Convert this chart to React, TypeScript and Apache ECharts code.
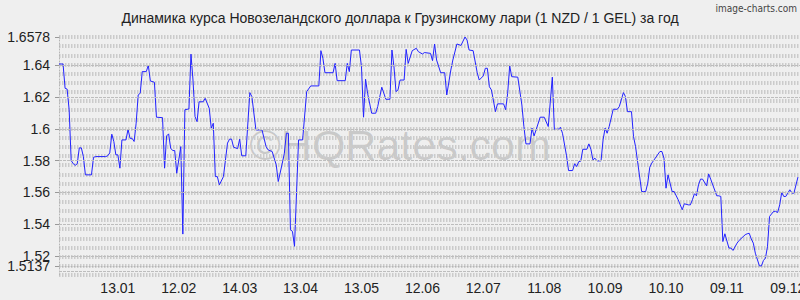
import React, { useEffect, useRef } from "react";
import * as echarts from "echarts";

// Day index (0 = 14.12.2024) and NZD/GEL rate
const days = [
  1, 3, 4, 5, 6, 7, 8, 9, 10, 11, 12, 13, 14, 17, 18, 19, 24, 25, 26, 27, 28, 29, 30, 31, 32, 34, 35, 36, 37, 38,
  39, 40, 41, 42, 44, 45, 46, 48, 49, 52, 53, 54, 55, 56, 57, 58, 59, 61, 62, 63, 65, 66, 67, 68, 69, 70, 72, 73,
  75, 76, 77, 78, 79, 80, 82, 84, 85, 86, 87, 89, 90, 91, 93, 95, 96, 98, 101, 103, 104, 106, 108, 109, 111, 112,
  113, 114, 115, 116, 117, 119, 121, 123, 125, 129, 130, 131, 132, 136, 137, 138, 142, 143, 144, 145, 149, 150,
  151, 152, 153, 155, 157, 158, 160, 161, 162, 164, 165, 166, 167, 168, 169, 171, 172, 173, 175, 177, 178, 180,
  181, 184, 185, 186, 187, 189, 191, 192, 194, 195, 197, 199, 201, 202, 203, 205, 207, 208, 210, 211, 212, 213,
  214, 216, 217, 220, 221, 222, 223, 224, 227, 229, 230, 231, 233, 234, 235, 236, 238, 240, 242, 244, 245, 247,
  248, 249, 251, 252, 254, 255, 256, 257, 258, 259, 261, 262, 263, 264, 265, 266, 268, 269, 270, 271, 272, 274,
  276, 277, 279, 280, 281, 283, 284, 285, 288, 289, 290, 291, 292, 293, 297, 298, 299, 300, 301, 303, 304, 306,
  308, 309, 311, 312, 313, 314, 315, 316, 317, 318, 320, 321, 322, 325, 326, 327, 328, 329, 331, 332, 333, 335,
  336, 339, 340, 341, 342, 343, 344, 346, 347, 348, 349, 350, 351, 353, 354, 355, 356, 357, 358, 359, 360, 361,
  362, 363, 365,
];
const rates = [
  1.6408, 1.6408, 1.6255, 1.625, 1.612, 1.58, 1.578, 1.577, 1.578, 1.588, 1.588, 1.5825, 1.571, 1.571, 1.582,
  1.5825, 1.5825, 1.583, 1.5848, 1.5966, 1.592, 1.5836, 1.5836, 1.5752, 1.593, 1.593, 1.5997, 1.594, 1.594, 1.592,
  1.6035, 1.6213, 1.6224, 1.636, 1.636, 1.64, 1.6301, 1.6293, 1.6073, 1.607, 1.5752, 1.5955, 1.5968, 1.5878,
  1.5863, 1.5863, 1.572, 1.5888, 1.5337, 1.612, 1.6125, 1.647, 1.6307, 1.6077, 1.6045, 1.617, 1.617, 1.6192,
  1.6129, 1.6004, 1.6035, 1.5699, 1.5699, 1.5647, 1.5699, 1.591, 1.5935, 1.5935, 1.5884, 1.5875, 1.5935, 1.583,
  1.583, 1.6228, 1.6203, 1.5993, 1.5993, 1.5888, 1.5867, 1.5857, 1.5773, 1.5668, 1.5784, 1.5846, 1.5972, 1.5972,
  1.5364, 1.5354, 1.526, 1.593, 1.593, 1.6234, 1.627, 1.627, 1.6492, 1.6444, 1.6353, 1.6353, 1.6412, 1.6303,
  1.6303, 1.6412, 1.636, 1.6496, 1.6496, 1.639, 1.6073, 1.6312, 1.6224, 1.6098, 1.6098, 1.614, 1.6262, 1.6224,
  1.6186, 1.6186, 1.6496, 1.639, 1.6234, 1.6245, 1.6307, 1.6307, 1.65, 1.6412, 1.6492, 1.6507, 1.6486, 1.6471,
  1.648, 1.6475, 1.6429, 1.6534, 1.6433, 1.6353, 1.6353, 1.6213, 1.637, 1.6433, 1.6534, 1.6525, 1.6578, 1.6559,
  1.6496, 1.6492, 1.6353, 1.6307, 1.6333, 1.6381, 1.6381, 1.6265, 1.6245, 1.6108, 1.6157, 1.6157, 1.612, 1.6224,
  1.6396, 1.6328, 1.6325, 1.615, 1.6014, 1.5905, 1.5905, 1.6004, 1.5955, 1.5993, 1.6073, 1.6073, 1.6014, 1.6325,
  1.5997, 1.5997, 1.601, 1.5972, 1.583, 1.5737, 1.5737, 1.578, 1.5762, 1.5793, 1.5796, 1.5871, 1.5871, 1.5905,
  1.5871, 1.5804, 1.5815, 1.5798, 1.5798, 1.593, 1.6004, 1.5972, 1.6014, 1.6123, 1.6123, 1.614, 1.6228, 1.6203,
  1.6108, 1.6108, 1.5951, 1.5888, 1.5605, 1.5605, 1.5605, 1.5658, 1.5758, 1.5784, 1.5857, 1.5857, 1.5815,
  1.5626, 1.571, 1.5605, 1.5605, 1.5553, 1.549, 1.5528, 1.5521, 1.5521, 1.5553, 1.5591, 1.5578, 1.5647, 1.5683,
  1.5683, 1.5641, 1.5716, 1.5683, 1.5578, 1.5578, 1.5574, 1.529, 1.5339, 1.5249, 1.5249, 1.5234, 1.528, 1.5297,
  1.5333, 1.5339, 1.5342, 1.5306, 1.528, 1.5217, 1.5137, 1.5137, 1.5171, 1.5186, 1.526, 1.5448, 1.548, 1.548,
  1.5473, 1.5521, 1.5599, 1.5574, 1.5574, 1.5595, 1.5616, 1.5595, 1.5595, 1.5696, 1.5699,
];

const yMinLabel = 1.5137;
const yMaxLabel = 1.6578;
const yTickValues = [1.52, 1.54, 1.56, 1.58, 1.6, 1.62, 1.64, 1.6578];
const yExtraTickValues = [1.5137];
const xTickDays = [30, 60, 90, 120, 150, 180, 210, 240, 270, 300, 330, 360];
const xTickLabels = ["13.01", "12.02", "14.03", "13.04", "13.05", "12.06", "12.07", "11.08", "10.09", "10.10", "09.11", "09.12"];
const bandCount = 25;

const TITLE = "Динамика курса Новозеландского доллара к Грузинскому лари (1 NZD / 1 GEL) за год";

export default function App() {
  const ref = useRef<HTMLDivElement>(null);
  useEffect(() => {
    document.body.style.margin = "0";
    const chart = echarts.init(ref.current!, null, { renderer: "svg" });
    const step = (yMaxLabel - yMinLabel) / bandCount;
    const yMin = yMinLabel - step;
    const font = "'Liberation Sans', Arial, sans-serif";
    const labelStyle = {
      formatter: (v: number) => String(+v.toFixed(4)),
      fontSize: 14,
      fontFamily: font,
      color: "#222",
      margin: 9,
      hideOverlap: false,
      showMinLabel: true,
      showMaxLabel: true,
    };
    chart.setOption({
      animation: false,
      backgroundColor: "#efefef",
      grid: { left: 59, right: 0, top: 37, bottom: 25, containLabel: false, outerBoundsMode: "none" },
      graphic: [
        {
          type: "text",
          x: 400,
          y: 18,
          style: { text: TITLE, font: `14px ${font}`, fill: "#222", align: "center", verticalAlign: "middle" },
        },
        {
          type: "text",
          x: 797,
          y: 8,
          style: { text: "image-charts.com", font: `10px 'DejaVu Sans Condensed', sans-serif`, fill: "#444", align: "right", verticalAlign: "middle" },
        },
        {
          type: "text",
          x: 400,
          y: 145,
          z: 0,
          style: { text: "©HQRates.com", font: `43px ${font}`, fill: "rgba(0,0,0,0.16)", align: "center", verticalAlign: "middle" },
        },
      ],
      xAxis: {
        type: "value",
        min: 1,
        max: 366,
        axisLine: { show: true, lineStyle: { color: "#b5b5b5", type: [1, 2], width: 1 } },
        axisTick: { show: false },
        splitLine: { show: false },
        axisLabel: {
          customValues: xTickDays,
          formatter: (v: number) => xTickLabels[xTickDays.indexOf(Math.round(v))] ?? "",
          fontSize: 14,
          fontFamily: font,
          color: "#222",
          margin: 6,
          hideOverlap: false,
        },
      },
      yAxis: [
        {
          type: "value",
          min: yMin,
          max: yMaxLabel,
          axisLine: { show: true, lineStyle: { color: "#b5b5b5", type: [1, 2], width: 1 } },
          axisTick: { show: true, customValues: yTickValues, length: 4, lineStyle: { color: "#999" } },
          splitLine: { show: false },
          axisLabel: { ...labelStyle, customValues: yTickValues },
        },
        {
          type: "value",
          min: -1,
          max: bandCount,
          interval: 1,
          position: "left",
          axisLine: { show: false },
          axisTick: { show: false },
          axisLabel: { show: false },
          splitLine: { show: true, lineStyle: { color: "#cbcbcb", width: 4, type: [1.5, 1.5] } },
        },
        {
          type: "value",
          min: yMin,
          max: yMaxLabel,
          position: "left",
          axisLine: { show: false },
          axisTick: { show: true, customValues: yExtraTickValues, length: 4, lineStyle: { color: "#999" } },
          splitLine: { show: false },
          axisLabel: { ...labelStyle, customValues: yExtraTickValues },
        },
      ],
      series: [
        {
          type: "line",
          data: [],
          z: 1,
          silent: true,
          markLine: {
            silent: true,
            symbol: ["none", "none"],
            label: { show: false },
            lineStyle: { color: "#bdbdbd", type: [3, 1], width: 1 },
            data: [...yExtraTickValues, ...yTickValues].map((v) => ({ yAxis: v })),
          },
        },
        {
          type: "line",
          z: 3,
          data: days.map((d, i) => [d, rates[i]]),
          showSymbol: false,
          symbol: "none",
          lineStyle: { color: "#2222ff", width: 1 },
        },
      ],
    });
    return () => chart.dispose();
  }, []);
  return <div ref={ref} style={{ width: 800, height: 300 }} />;
}
